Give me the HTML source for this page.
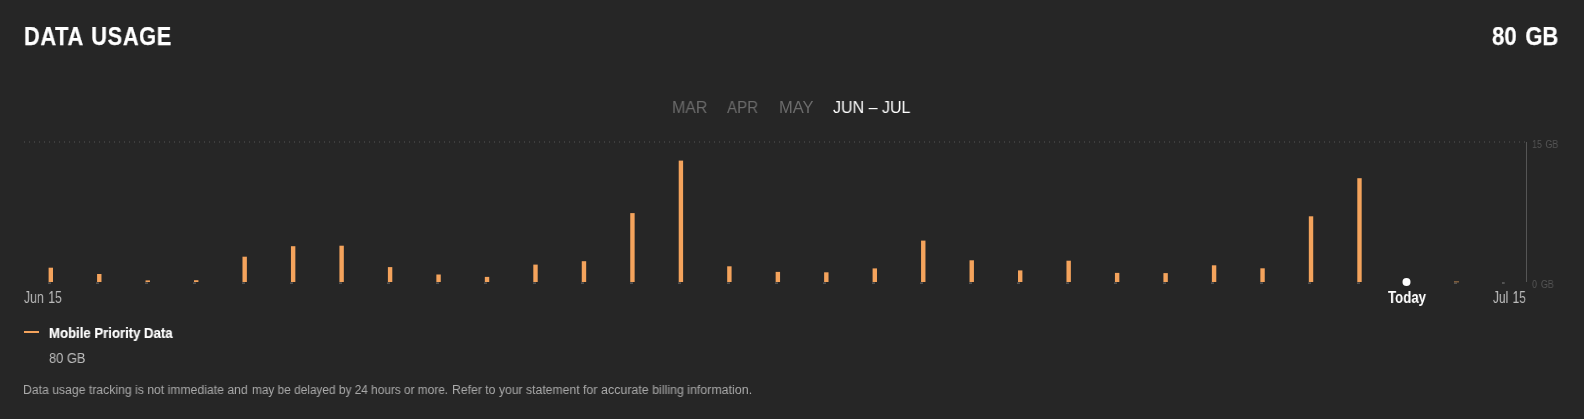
<!DOCTYPE html>
<html><head><meta charset="utf-8"><style>
html,body{margin:0;padding:0;}
body{width:1584px;height:419px;background:#262626;position:relative;overflow:hidden;font-family:"Liberation Sans",sans-serif;}
.t{position:absolute;white-space:nowrap;line-height:1;transform-origin:0 0;will-change:transform;}
</style></head><body>
<div class="t" style="left:24px;top:23px;font-size:26px;font-weight:bold;color:#fff;letter-spacing:0.7px;word-spacing:2px;-webkit-text-stroke:0.25px #fff;transform:scaleX(0.84)">DATA USAGE</div>
<div class="t" style="left:1492px;top:23px;font-size:26px;font-weight:bold;color:#fff;word-spacing:3px;-webkit-text-stroke:0.25px #fff;transform:scaleX(0.85)">80 GB</div>
<div class="t" style="left:672px;top:99px;font-size:16.5px;color:#6b6b6b;transform:scaleX(0.963)">MAR</div>
<div class="t" style="left:727px;top:99px;font-size:16.5px;color:#6b6b6b;transform:scaleX(0.918)">APR</div>
<div class="t" style="left:779px;top:99px;font-size:16.5px;color:#6b6b6b;transform:scaleX(0.99)">MAY</div>
<div class="t" style="left:833px;top:99px;font-size:16.5px;color:#fff;transform:scaleX(0.97)">JUN – JUL</div>
<svg style="position:absolute;left:0;top:0" width="1584" height="419">
<line x1="24" y1="142" x2="1526" y2="142" stroke="#555" stroke-width="1" stroke-dasharray="1 4"/>
<line x1="1526.5" y1="142" x2="1526.5" y2="282" stroke="#555" stroke-width="1"/>
<g fill="#525252"><rect x="48" y="282.3" width="3" height="1.7"/><rect x="96" y="282.3" width="3" height="1.7"/><rect x="145" y="282.3" width="3" height="1.7"/><rect x="193" y="282.3" width="3" height="1.7"/><rect x="242" y="282.3" width="3" height="1.7"/><rect x="290" y="282.3" width="3" height="1.7"/><rect x="339" y="282.3" width="3" height="1.7"/><rect x="387" y="282.3" width="3" height="1.7"/><rect x="436" y="282.3" width="3" height="1.7"/><rect x="484" y="282.3" width="3" height="1.7"/><rect x="533" y="282.3" width="3" height="1.7"/><rect x="581" y="282.3" width="3" height="1.7"/><rect x="630" y="282.3" width="3" height="1.7"/><rect x="678" y="282.3" width="3" height="1.7"/><rect x="727" y="282.3" width="3" height="1.7"/><rect x="775" y="282.3" width="3" height="1.7"/><rect x="823" y="282.3" width="3" height="1.7"/><rect x="872" y="282.3" width="3" height="1.7"/><rect x="920" y="282.3" width="3" height="1.7"/><rect x="969" y="282.3" width="3" height="1.7"/><rect x="1017" y="282.3" width="3" height="1.7"/><rect x="1066" y="282.3" width="3" height="1.7"/><rect x="1114" y="282.3" width="3" height="1.7"/><rect x="1163" y="282.3" width="3" height="1.7"/><rect x="1211" y="282.3" width="3" height="1.7"/><rect x="1260" y="282.3" width="3" height="1.7"/><rect x="1308" y="282.3" width="3" height="1.7"/><rect x="1357" y="282.3" width="3" height="1.7"/><rect x="1454" y="282.3" width="3" height="1.7"/><rect x="1502" y="282" width="2.7" height="2"/></g>
<g fill="#f4a35c"><rect x="48.60" y="267.7" width="4.4" height="14.3"/><rect x="97.07" y="274.0" width="4.4" height="8.0"/><rect x="145.54" y="280.4" width="4.4" height="1.6"/><rect x="194.01" y="280.2" width="4.4" height="1.8"/><rect x="242.48" y="256.7" width="4.4" height="25.3"/><rect x="290.95" y="246.2" width="4.4" height="35.8"/><rect x="339.42" y="245.7" width="4.4" height="36.3"/><rect x="387.89" y="267.1" width="4.4" height="14.9"/><rect x="436.36" y="274.5" width="4.4" height="7.5"/><rect x="484.83" y="276.9" width="4.4" height="5.1"/><rect x="533.30" y="264.6" width="4.4" height="17.4"/><rect x="581.77" y="261.2" width="4.4" height="20.8"/><rect x="630.24" y="213.1" width="4.4" height="68.9"/><rect x="678.71" y="160.6" width="4.4" height="121.4"/><rect x="727.18" y="266.3" width="4.4" height="15.7"/><rect x="775.65" y="271.9" width="4.4" height="10.1"/><rect x="824.12" y="272.3" width="4.4" height="9.7"/><rect x="872.59" y="268.4" width="4.4" height="13.6"/><rect x="921.06" y="240.6" width="4.4" height="41.4"/><rect x="969.53" y="260.3" width="4.4" height="21.7"/><rect x="1018.00" y="270.4" width="4.4" height="11.6"/><rect x="1066.47" y="260.7" width="4.4" height="21.3"/><rect x="1114.94" y="272.9" width="4.4" height="9.1"/><rect x="1163.41" y="273.1" width="4.4" height="8.9"/><rect x="1211.88" y="265.3" width="4.4" height="16.7"/><rect x="1260.35" y="268.3" width="4.4" height="13.7"/><rect x="1308.82" y="216.3" width="4.4" height="65.7"/><rect x="1357.29" y="178.2" width="4.4" height="103.8"/></g>
<rect x="1454" y="281" width="5" height="1.5" fill="#7d5c3c"/>
<circle cx="1406.5" cy="282" r="4" fill="#fff"/>
</svg>
<div class="t" style="left:1532px;top:139px;font-size:11px;color:#555;word-spacing:1px;transform:scaleX(0.82)">15 GB</div>
<div class="t" style="left:1532px;top:279px;font-size:11px;color:#555;word-spacing:1.5px;transform:scaleX(0.82)">0 GB</div>
<div class="t" style="left:24px;top:289px;font-size:17px;color:#bbb;word-spacing:1.5px;transform:scaleX(0.72)">Jun 15</div>
<div class="t" style="left:1387.5px;top:289px;font-size:17px;font-weight:bold;color:#fff;transform:scaleX(0.78)">Today</div>
<div class="t" style="left:1493px;top:289px;font-size:17px;color:#bbb;word-spacing:1.5px;transform:scaleX(0.7)">Jul 15</div>
<div style="position:absolute;left:24px;top:331px;width:15px;height:2px;background:#f4a35c"></div>
<div class="t" style="left:49px;top:326px;font-size:14px;font-weight:bold;color:#fff;-webkit-text-stroke:0.15px #fff;transform:scaleX(0.94)">Mobile Priority Data</div>
<div class="t" style="left:49px;top:351px;font-size:14px;color:#bbb;transform:scaleX(0.92)">80 GB</div>
<div class="t" style="left:23px;top:384px;font-size:12.5px;color:#aaa;transform:scaleX(0.977)">Data usage tracking is not immediate and</div>
<div class="t" style="left:252px;top:384px;font-size:12.5px;color:#aaa;transform:scaleX(0.947)">may be delayed by 24 hours or more.</div>
<div class="t" style="left:451.6px;top:384px;font-size:12.5px;color:#aaa;transform:scaleX(0.977)">Refer to your statement for</div>
<div class="t" style="left:601px;top:384px;font-size:12.5px;color:#aaa;transform:scaleX(0.993)">accurate billing information.</div>
</body></html>
